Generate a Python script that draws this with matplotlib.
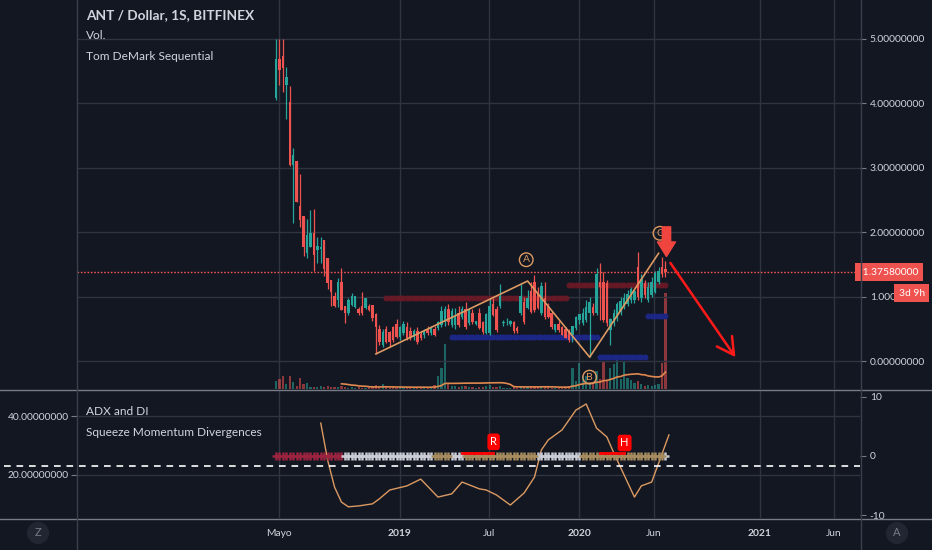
import matplotlib
matplotlib.use('Agg')
import matplotlib.pyplot as plt
import matplotlib.dates as mdates
from matplotlib.lines import Line2D
import numpy as np
import pandas as pd

plt.rcParams['font.family'] = ['Lato', 'DejaVu Sans']

# ---- weekly candles (ANT/USD, Bitfinex) ----
bar_dates = pd.date_range('2018-04-25', periods=114, freq='7D')

opens = [4.08, 4.67, 4.71, 4.28, 4.00, 3.04, 3.09, 2.39, 2.23, 1.67, 1.77, 1.98, 1.72, 1.74, 1.86, 1.58,
         1.24, 0.99, 0.95, 1.22, 0.84, 0.74, 0.87, 0.84, 0.80, 0.84, 0.82, 0.84, 0.85, 0.71, 0.48, 0.25,
         0.48, 0.43, 0.51, 0.56, 0.37, 0.43, 0.51, 0.45, 0.37, 0.45, 0.40, 0.40, 0.48, 0.44, 0.48, 0.51,
         0.56, 0.60, 0.79, 0.56, 0.56, 0.74, 0.68, 0.79, 0.59, 0.74, 0.58, 0.74, 0.59, 0.43, 0.43, 0.87,
         0.79, 0.85, 0.59, 0.60, 0.58, 0.59, 0.50, 0.74, 0.91, 0.82, 1.07, 1.22, 1.05, 0.74, 0.97, 0.82,
         0.74, 0.48, 0.56, 0.51, 0.48, 0.45, 0.40, 0.51, 0.64, 0.59, 0.64, 0.74, 0.82, 0.74, 1.22, 1.22,
         1.20, 0.48, 0.59, 0.67, 0.76, 0.84, 0.89, 0.95, 0.95, 1.44, 0.98, 1.20, 0.95, 1.02, 1.07, 1.23,
         1.44, 1.42]
highs = [5.00, 4.99, 4.99, 4.56, 4.26, 3.30, 3.10, 2.90, 2.24, 2.20, 2.34, 2.36, 1.92, 1.92, 1.88, 1.60,
         1.26, 1.07, 1.29, 1.44, 0.86, 0.97, 1.05, 1.00, 0.83, 1.07, 0.98, 0.88, 0.86, 0.74, 0.56, 0.50,
         0.55, 0.47, 0.55, 0.65, 0.55, 0.62, 0.60, 0.52, 0.50, 0.52, 0.46, 0.50, 0.55, 0.55, 0.55, 0.62,
         0.85, 0.85, 0.88, 0.82, 0.82, 0.86, 0.86, 0.92, 0.82, 0.80, 0.62, 0.82, 0.62, 0.75, 0.98, 0.98,
         0.85, 1.20, 0.64, 0.66, 0.64, 0.62, 0.54, 1.20, 1.00, 1.10, 1.22, 1.33, 1.15, 1.22, 1.22, 0.90,
         0.78, 0.58, 0.62, 0.55, 0.52, 0.50, 0.55, 0.70, 0.72, 0.82, 0.95, 1.00, 0.90, 1.44, 1.52, 1.38,
         1.26, 0.66, 0.80, 0.92, 1.00, 1.05, 1.10, 1.15, 1.12, 1.69, 1.35, 1.26, 1.22, 1.30, 1.40, 1.45,
         1.62, 1.55]
lows = [4.05, 4.28, 4.17, 3.75, 3.02, 2.14, 2.46, 2.08, 1.63, 1.60, 1.76, 1.40, 1.52, 1.52, 1.32, 1.12,
        0.85, 0.83, 0.83, 0.79, 0.59, 0.72, 0.86, 0.82, 0.72, 0.72, 0.80, 0.78, 0.62, 0.11, 0.25, 0.22,
        0.28, 0.22, 0.30, 0.35, 0.33, 0.40, 0.33, 0.32, 0.33, 0.27, 0.32, 0.36, 0.40, 0.40, 0.38, 0.48,
        0.52, 0.55, 0.56, 0.52, 0.50, 0.53, 0.65, 0.50, 0.56, 0.58, 0.56, 0.50, 0.42, 0.42, 0.40, 0.70,
        0.45, 0.82, 0.55, 0.56, 0.54, 0.44, 0.44, 0.72, 0.58, 0.80, 0.75, 0.76, 0.80, 0.72, 0.65, 0.66,
        0.50, 0.45, 0.45, 0.40, 0.36, 0.30, 0.30, 0.48, 0.58, 0.56, 0.60, 0.06, 0.72, 0.72, 0.64, 0.60,
        0.55, 0.25, 0.55, 0.62, 0.72, 0.80, 0.85, 0.90, 0.90, 0.94, 0.92, 0.98, 0.92, 1.00, 1.05, 1.20,
        1.30, 1.30]
closes = [4.67, 4.51, 4.55, 4.39, 3.04, 3.18, 2.47, 2.19, 1.77, 1.94, 1.98, 1.64, 1.77, 1.76, 1.43, 1.21,
          1.07, 0.85, 1.22, 0.79, 0.74, 0.93, 0.99, 0.99, 0.74, 0.74, 0.96, 0.79, 0.66, 0.53, 0.29, 0.43,
          0.29, 0.29, 0.33, 0.37, 0.51, 0.56, 0.36, 0.36, 0.45, 0.29, 0.36, 0.45, 0.43, 0.50, 0.40, 0.60,
          0.76, 0.79, 0.60, 0.76, 0.68, 0.56, 0.79, 0.53, 0.79, 0.60, 0.61, 0.51, 0.45, 0.71, 0.84, 0.71,
          0.48, 0.99, 0.60, 0.60, 0.61, 0.46, 0.46, 0.99, 0.60, 0.97, 0.76, 0.79, 0.82, 1.15, 0.68, 0.68,
          0.53, 0.56, 0.48, 0.40, 0.36, 0.33, 0.53, 0.67, 0.71, 0.74, 0.82, 0.91, 0.74, 1.33, 1.15, 0.64,
          0.59, 0.64, 0.74, 0.87, 0.92, 0.97, 1.02, 1.10, 1.07, 0.99, 1.26, 1.02, 1.13, 1.21, 1.36, 1.38,
          1.35, 1.3758]
volumes = [8, 10, 13, 5, 13, 7, 3, 11, 5, 6, 2, 2, 2, 3, 2, 3, 2, 2, 2, 3, 2, 1, 2, 1, 2, 1, 1, 2, 2, 4,
           2, 5, 2, 1, 2, 1, 2, 1, 1, 2, 1, 1, 2, 1, 1, 2, 4, 13, 21, 45, 6, 3, 3, 2, 3, 3, 2, 2, 1, 2,
           2, 3, 4, 2, 2, 3, 1, 1, 1, 2, 1, 3, 2, 2, 3, 3, 2, 3, 2, 2, 1, 1, 1, 1, 2, 3, 21, 8, 26, 13,
           13, 6, 5, 18, 10, 28, 8, 21, 25, 30, 10, 28, 11, 9, 6, 8, 5, 3, 4, 3, 4, 5, 26, 96]

# TD Sequential support / resistance levels (bar index ranges)
td_resistance = [(32, 84, 0.98), (85, 113, 1.18)]
td_support = [(51, 93, 0.37), (94, 107, 0.06), (108, 113, 0.70)]

# Elliott zigzag (bar index, price) and wave labels
zigzag_bars = [29, 73, 91, 111]
zigzag_prices = [0.11, 1.24, 0.06, 1.67]
wave_labels = [('A', 72.6, 1.57), ('B', 91, -0.25), ('C', 111.4, 1.98)]

# drawn projection arrow
proj_start = ('2020-07-04', 1.52)
proj_end = ('2020-11-13', 0.06)

# ADX readings (bar index, value)
adx_bars = [13, 15, 17, 19, 21, 24, 28, 30, 33, 38, 42, 47, 51, 54, 59, 61, 64, 68, 72, 75, 77, 79,
            83, 87, 90, 93, 96, 98, 101, 104, 106, 109, 114]
adx_vals = [37.6, 25.0, 15.9, 10.8, 9.2, 9.5, 10.2, 11.9, 14.9, 16.3, 18.6, 12.5, 13.6, 17.6, 15.3,
            14.9, 13.2, 9.8, 13.9, 19.3, 28.5, 31.9, 35.3, 42.0, 44.1, 35.9, 32.9, 27.5, 20.0, 12.5,
            16.3, 17.6, 33.6]
adx_key_level = 23

# squeeze state per bar: 0 = squeeze on, 1 = released, 2 = building
sqz_state = [0] * 20 + [1] * 26 + [2] * 5 + [1] * 4 + [2] * 21 + [1] * 13 + [2] * 24 + [1]
div_lines = [('R', 54, 63, 0.5, 2.4), ('H', 94, 101, 0.5, 2.2)]

xtick_dates = ['2018-05-01', '2019-01-01', '2019-07-01', '2020-01-01', '2020-06-01', '2021-01-01', '2021-06-01']
xtick_labels = ['Mayo', '2019', 'Jul', '2020', 'Jun', '2021', 'Jun']

# ---- styling ----
BG = '#131722'
GRID = '#2f3440'
TXT = '#d1d4dc'
UP = '#26a69a'
DOWN = '#ef5350'
ORANGE = '#dc9a62'
LBL = 7.4

W, H = 932, 550
fig = plt.figure(figsize=(W / 100, H / 100), dpi=100, facecolor=BG)

def rect(x0, y0, x1, y1):
    return [x0 / W, 1 - y1 / H, (x1 - x0) / W, (y1 - y0) / H]

top_rect = rect(77, 0, 860, 389)
bot_rect = rect(77, 391, 860, 518)

axv = fig.add_axes(top_rect, facecolor=BG)
ax = fig.add_axes(top_rect, sharex=axv, facecolor='none')
axb = fig.add_axes(bot_rect, sharex=axv, facecolor=BG)
axs = axb.twinx()

x = mdates.date2num(bar_dates)
o = np.array(opens); h = np.array(highs); l = np.array(lows); c = np.array(closes)
up = c >= o
cols = np.where(up, UP, DOWN)

xlim = (mdates.datestr2num('2017-03-17'), mdates.datestr2num('2021-07-24'))
xticks = [mdates.datestr2num(d) for d in xtick_dates]

# volume
axv.bar(x, volumes, width=4.5, color=cols, alpha=0.55, zorder=2)
vol_ma = pd.Series(volumes, dtype=float).rolling(20).mean()
axv.plot(x, vol_ma, color='#e0894f', lw=1.2, zorder=3)
axv.set_ylim(0, 389)
axv.set_xlim(*xlim)
axv.set_xticks(xticks)
axv.grid(axis='x', color=GRID, lw=1)
axv.tick_params(left=False, labelleft=False, bottom=False, labelbottom=False)
for s in axv.spines.values():
    s.set_visible(False)

# price panel
ax.set_ylim(-0.434, 5.597)
ax.set_yticks(range(6))
ax.grid(axis='y', color=GRID, lw=1, zorder=0)
ax.vlines(x, l, h, color=cols, lw=0.9, zorder=3)
ax.bar(x, np.abs(c - o) + 0.012, bottom=np.minimum(o, c), width=5, color=cols, zorder=4)

for b0, b1, lvl in td_resistance:
    ax.plot(x[b0:b1 + 1], [lvl] * (b1 - b0 + 1), 'o', ms=4.3, color='#6a1a26', mew=0, alpha=0.9, zorder=2.5)
for b0, b1, lvl in td_support:
    ax.plot(x[b0:b1 + 1], [lvl] * (b1 - b0 + 1), 'o', ms=4.3, color='#1c2685', mew=0, zorder=2.5)

zx = [x[b] for b in zigzag_bars]
ax.plot(zx, zigzag_prices, color=ORANGE, lw=1.2, zorder=5)
for lab, bi, pr in wave_labels:
    xd = x[0] + bi * 7
    ax.text(xd, pr, lab, color=ORANGE, fontsize=7.5, ha='center', va='center', zorder=6,
            bbox=dict(boxstyle='circle,pad=0.22', fc='none', ec=ORANGE, lw=1))

# current price line
last = closes[-1]
ax.axhline(last, color=DOWN, ls=(0, (1.2, 1.2)), lw=1, zorder=1)

# big down arrow over last bar
ax.annotate('', xy=(x[-1] + 2, 1.62), xytext=(x[-1] + 2, 2.08),
            arrowprops=dict(arrowstyle='simple,head_width=1.3,head_length=1.05,tail_width=0.6',
                            color='#f0453f', mutation_scale=10, shrinkA=0, shrinkB=0), zorder=7)
# projection line
ax.annotate('', xy=(mdates.datestr2num(proj_end[0]), proj_end[1]),
            xytext=(mdates.datestr2num(proj_start[0]), proj_start[1]),
            arrowprops=dict(arrowstyle='->,head_length=1.0,head_width=0.55', color='#ff1a1a', lw=1.8,
                            mutation_scale=12, shrinkA=0, shrinkB=0), zorder=7)

ax.yaxis.tick_right()
ax.set_yticklabels([f'{v:.8f}' for v in range(6)])
ax.tick_params(axis='y', colors=TXT, labelsize=LBL, length=4, pad=3, color='#787b86')
ax.tick_params(axis='x', bottom=False, labelbottom=False)
for s in ax.spines.values():
    s.set_visible(False)

ax.text(1.0, last, ' 1.37580000', transform=ax.get_yaxis_transform(), ha='left', va='center',
        color='white', fontsize=LBL, zorder=10, clip_on=False,
        bbox=dict(boxstyle='square,pad=0.45', fc=DOWN, ec='none'))
ax.annotate('3d 9h', xy=(1.066, last), xycoords=ax.get_yaxis_transform(), xytext=(0, -15),
            textcoords='offset points', ha='center', va='center', color='white', fontsize=LBL,
            annotation_clip=False, zorder=10,
            bbox=dict(boxstyle='square,pad=0.45', fc=DOWN, ec='none'))

ax.text(0.012, 0.962, 'ANT / Dollar, 1S, BITFINEX', transform=ax.transAxes, color=TXT, fontsize=9.8,
        fontweight='bold', va='center')
ax.text(0.012, 0.908, 'Vol.', transform=ax.transAxes, color=TXT, fontsize=8.6, va='center')
ax.text(0.012, 0.855, 'Tom DeMark Sequential', transform=ax.transAxes, color=TXT, fontsize=8.6, va='center')

# bottom panel: ADX (left) and squeeze momentum (right)
axb.set_ylim(5.4, 48.5)
axb.set_yticks([20, 40])
axb.set_yticklabels(['20.00000000', '40.00000000'])
axb.grid(axis='y', color=GRID, lw=1)
axb.grid(axis='x', color=GRID, lw=1)
axb.plot([x[0] + b * 7 for b in adx_bars], adx_vals, color=ORANGE, lw=1, zorder=4)
axb.plot([-0.093, 1], [adx_key_level] * 2, transform=axb.get_yaxis_transform(), color='white',
         ls=(0, (4, 3.5)), lw=1.2, clip_on=False, zorder=5)
axb.tick_params(axis='y', colors=TXT, labelsize=LBL, length=4, pad=2, color='#787b86')
axb.set_xticks(xticks)
axb.set_xticklabels(xtick_labels)
axb.tick_params(axis='x', colors=TXT, labelsize=LBL, length=0, pad=8)
for t in axb.get_xticklabels():
    if t.get_text().isdigit():
        t.set_fontweight('bold')
for s in axb.spines.values():
    s.set_visible(False)

sqz_colors = ['#9a2340', '#c9ccd4', '#a58b5e']
axs.set_ylim(-10.5, 11.0)
for state in range(3):
    idx = [i for i, s in enumerate(sqz_state) if s == state]
    axs.plot(x[idx], [0] * len(idx), '+', ms=6, mew=1.8, color=sqz_colors[state], zorder=3)
for lab, b0, b1, lvl, ly in div_lines:
    axs.plot([x[b0], x[b1]], [lvl, lvl], color='#ff0000', lw=2, zorder=4)
    axs.text(x[b1] + 1, ly, lab, color='white', fontsize=8, ha='center', va='center', zorder=6,
             bbox=dict(boxstyle='round,pad=0.25', fc='#ff0000', ec='none'))
axs.set_yticks([-10, 0, 10])
axs.set_yticklabels(['-10', '0', '10'])
axs.tick_params(axis='y', colors=TXT, labelsize=LBL, length=4, pad=3, color='#787b86')
for s in axs.spines.values():
    s.set_visible(False)

axb.text(0.012, 0.84, 'ADX and DI', transform=axb.transAxes, color=TXT, fontsize=8.6, va='center')
axb.text(0.012, 0.675, 'Squeeze Momentum Divergences', transform=axb.transAxes, color=TXT,
         fontsize=8.6, va='center')

# panel separators
SEP = '#787b86'
for (x0, y0, x1, y1) in [(0, 389.5, W, 389.5), (0, 518.5, W, 518.5), (77, 0, 77, H), (860.5, 0, 860.5, H)]:
    fig.add_artist(Line2D([x0 / W, x1 / W], [1 - y0 / H, 1 - y1 / H], color=SEP if y0 != 0 else '#3a3f4b',
                          lw=1))

for txt, px in [('Z', 38), ('A', 897)]:
    fig.text(px / W, 1 - 533 / H, txt, color='#787b86', fontsize=8, ha='center', va='center',
             bbox=dict(boxstyle='circle,pad=0.5', fc='#222632', ec='none'))

fig.savefig('out.png', dpi=100, facecolor=BG)
